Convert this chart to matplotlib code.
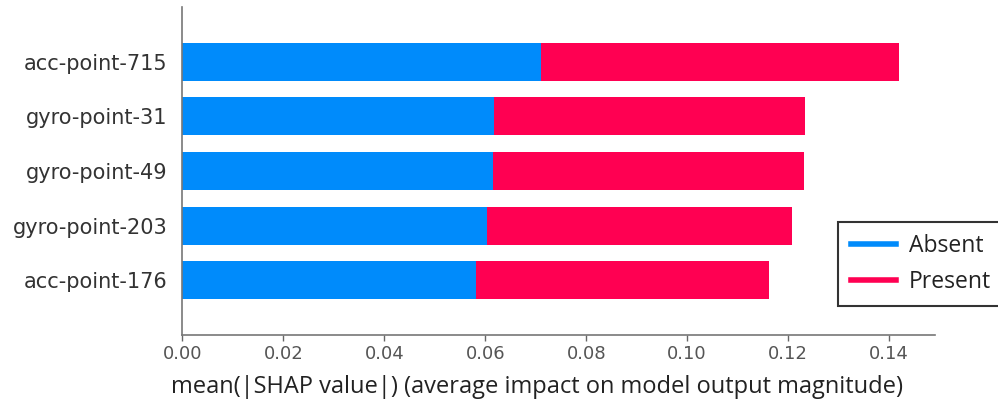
import matplotlib
matplotlib.use("Agg")
import matplotlib.pyplot as plt
from matplotlib.lines import Line2D

# mean(|SHAP|) per feature, top feature first
features = ["acc-point-715", "gyro-point-31", "gyro-point-49", "gyro-point-203", "acc-point-176"]
absent = [0.0710, 0.0617, 0.0615, 0.0603, 0.0581]
present = [0.0710, 0.0617, 0.0616, 0.0604, 0.0581]
class_names = ["Absent", "Present"]

BLUE = "#008bfb"
RED = "#ff0052"
AXIS = "#333333"

fig = plt.figure(figsize=(9.98, 4.07), dpi=100)
ax = fig.add_axes([0.1827, 0.1769, 0.9369 - 0.1827, 0.9828 - 0.1769])

# bottom row is the last feature
y_pos = list(range(len(features)))[::-1]
ax.barh(y_pos, absent, 0.7, color=BLUE, label=class_names[0])
ax.barh(y_pos, present, 0.7, left=absent, color=RED, label=class_names[1])

ax.set_ylim(-1, len(features))
ax.set_yticks(y_pos)
ax.set_yticklabels(features, fontsize=15, color=AXIS)
ax.tick_params(axis="y", length=0, pad=10.5)
ax.tick_params(axis="x", labelsize=13, labelcolor="#555555", color="#666666",
               length=4, width=1)
ax.set_xticks([0.0, 0.02, 0.04, 0.06, 0.08, 0.10, 0.12, 0.14])
ax.set_xticklabels([f"{t:.2f}" for t in ax.get_xticks()])

for side in ("top", "right"):
    ax.spines[side].set_visible(False)
for side in ("left", "bottom"):
    ax.spines[side].set_color("#777777")
    ax.spines[side].set_linewidth(1.2)

ax.set_xlabel("mean(|SHAP value|) (average impact on model output magnitude)",
              fontsize=17, family="Open Sans", color="#222222")
ax.xaxis.set_label_coords(0.471, -0.122)

# legend box runs off the right edge of the figure
handles = [Line2D([0], [0], color=BLUE, lw=4), Line2D([0], [0], color=RED, lw=4)]
leg = fig.legend(handles, class_names, loc="upper left",
                 bbox_to_anchor=(838 / 998, (407 - 221.7) / 407),
                 prop={"family": "Open Sans", "size": 16.5}, frameon=True, fancybox=False,
                 borderpad=0.55, handlelength=2.0, handletextpad=0.55,
                 labelspacing=0.5, borderaxespad=0)
leg.get_frame().set_edgecolor("black")
leg.get_frame().set_linewidth(1.5)
for t in leg.get_texts():
    t.set_color("#222222")

fig.savefig("out.png", dpi=100)
